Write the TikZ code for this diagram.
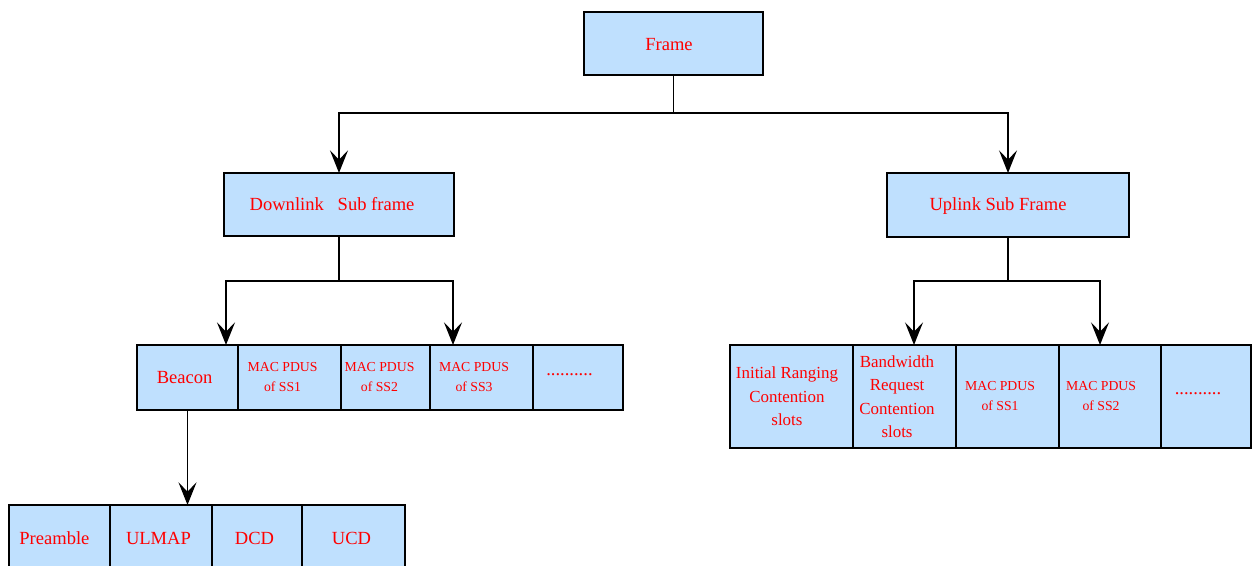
\documentclass[tikz,border=0pt]{standalone}
\usepackage{fontspec}
\setmainfont{Liberation Serif}
\usetikzlibrary{arrows.meta}
\definecolor{cellblue}{RGB}{191,224,254}
\definecolor{txtred}{RGB}{255,0,0}
\tikzset{
  cell/.style={draw=black, line width=1.1pt, fill=cellblue, inner sep=0pt, outer sep=0pt},
  lbl/.style={text=txtred, align=center, inner sep=0pt},
  big/.style={lbl, font=\fontsize{13.9}{16}\selectfont},
  small/.style={lbl, font=\fontsize{10.3}{15}\selectfont},
  mid/.style={lbl, font=\fontsize{12.7}{17.6}\selectfont},
  conn/.style={draw=black, line width=1.3pt},
  arr/.style={conn, -{Stealth[length=17pt, width=13.5pt, inset=7pt]}}
}
\begin{document}
\begin{tikzpicture}[x=0.75pt, y=-0.75pt]
\clip (0,0) rectangle (1253,566);
\fill[white] (0,0) rectangle (1253,566);
% top
\node[cell, minimum width={179*0.75pt}, minimum height={63*0.75pt}, label={[big, xshift=-3.4pt, yshift=-1pt]center:Frame}] (frame) at (673.5,43.5) {};
\node[cell, minimum width={230*0.75pt}, minimum height={63*0.75pt}, label={[big, xshift=-5.2pt]center:Downlink\ \ \ Sub frame}] (down) at (339,204.5) {};
\node[cell, minimum width={242*0.75pt}, minimum height={64*0.75pt}, label={[big, xshift=-7.5pt, yshift=-1pt]center:Uplink Sub Frame}] (up) at (1008,205) {};
% downlink row
\node[cell, minimum width={101*0.75pt}, minimum height={65*0.75pt}, label={[big, xshift=-2.2pt]center:Beacon}] (beacon) at (187.5,377.5) {};
\node[cell, minimum width={103*0.75pt}, minimum height={65*0.75pt}, label={[small, xshift=-5.2pt]center:MAC PDUS\\of SS1}] (d1) at (289.5,377.5) {};
\node[cell, minimum width={89*0.75pt}, minimum height={65*0.75pt}, label={[small, xshift=-4.5pt]center:MAC PDUS\\of SS2}] (d2) at (385.5,377.5) {};
\node[cell, minimum width={103*0.75pt}, minimum height={65*0.75pt}, label={[small, xshift=-5.6pt]center:MAC PDUS\\of SS3}] (d3) at (481.5,377.5) {};
\node[cell, minimum width={90*0.75pt}, minimum height={65*0.75pt}, label={[big, xshift=-6.4pt, yshift=2pt]center:..........}] (d4) at (578,377.5) {};
% uplink row
\node[cell, minimum width={123*0.75pt}, minimum height={103*0.75pt}, label={[mid, xshift=-3.4pt]center:Initial Ranging\\Contention\\slots}] (u0) at (791.5,396.5) {};
\node[cell, minimum width={103*0.75pt}, minimum height={103*0.75pt}, label={[mid, xshift=-5.6pt]center:Bandwidth\\Request\\Contention\\slots}] (u1) at (904.5,396.5) {};
\node[cell, minimum width={103*0.75pt}, minimum height={103*0.75pt}, label={[small, xshift=-5.6pt]center:MAC PDUS\\of SS1}] (u2) at (1007.5,396.5) {};
\node[cell, minimum width={102*0.75pt}, minimum height={103*0.75pt}, label={[small, xshift=-6.7pt]center:MAC PDUS\\of SS2}] (u3) at (1110,396.5) {};
\node[cell, minimum width={90*0.75pt}, minimum height={103*0.75pt}, label={[big, xshift=-6pt, yshift=2pt]center:..........}] (u4) at (1206,396.5) {};
% bottom row
\node[cell, minimum width={101*0.75pt}, minimum height={66*0.75pt}, label={[big, xshift=-3.8pt]center:Preamble}] (b0) at (59.5,538) {};
\node[cell, minimum width={102*0.75pt}, minimum height={66*0.75pt}, label={[big, xshift=-1.9pt]center:ULMAP}] (b1) at (161,538) {};
\node[cell, minimum width={90*0.75pt}, minimum height={66*0.75pt}, label={[big, xshift=-1.9pt]center:DCD}] (b2) at (257,538) {};
\node[cell, minimum width={103*0.75pt}, minimum height={66*0.75pt}, label={[big, xshift=-1.5pt]center:UCD}] (b3) at (353.5,538) {};
% connectors
\coordinate (j1) at (673.5,113);
\draw[conn] (frame.south) -- (j1);
\draw[arr] (j1) -| (down.north);
\draw[arr] (j1) -| (up.north);
\coordinate (j2) at (339,281);
\coordinate (t1) at (226,345);
\coordinate (t2) at (453,345);
\draw[conn] (down.south) -- (j2);
\draw[arr] (j2) -| (t1);
\draw[arr] (j2) -| (t2);
\coordinate (j3) at (1008,281);
\coordinate (t3) at (914,345);
\coordinate (t4) at (1100,345);
\draw[conn] (up.south) -- (j3);
\draw[arr] (j3) -| (t3);
\draw[arr] (j3) -| (t4);
\draw[arr] (beacon.south) -- (beacon.south |- b1.north);
\end{tikzpicture}
\end{document}
